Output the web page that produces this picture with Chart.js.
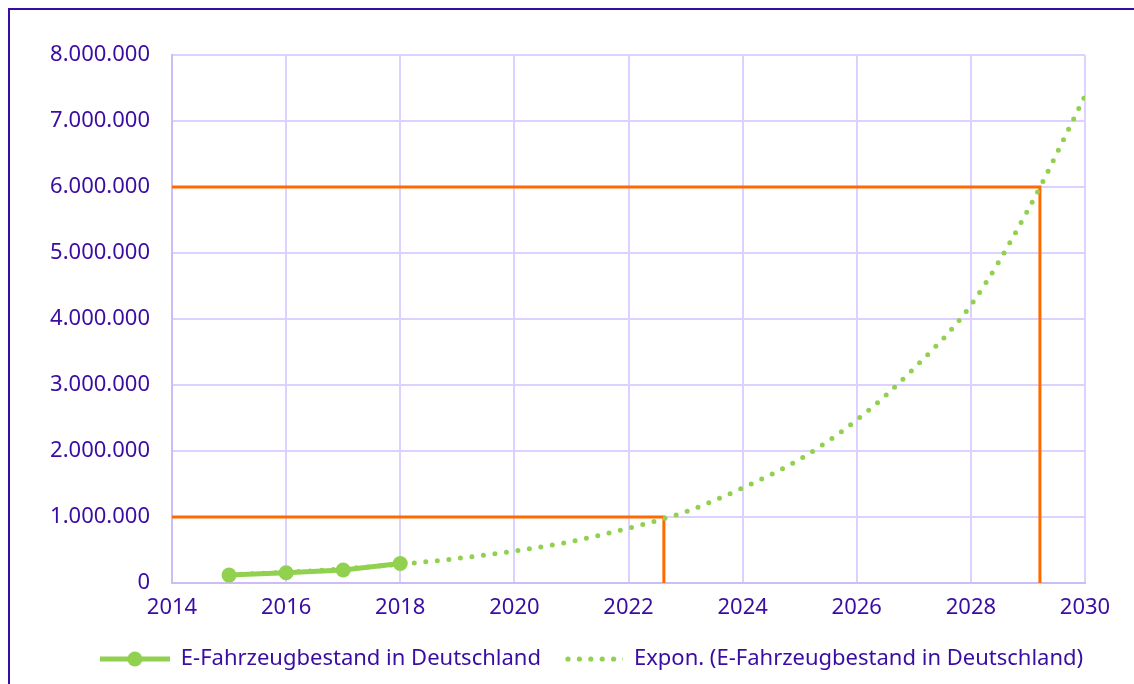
<!DOCTYPE html>
<html lang="de">
<head>
<meta charset="utf-8">
<title>E-Fahrzeugbestand in Deutschland</title>
<script src="https://cdn.jsdelivr.net/npm/chart.js@4.4.1/dist/chart.umd.min.js"></script>
<style>
    html, body { margin: 0; padding: 0; background: #ffffff; overflow: hidden; }
    #frame {
        position: absolute; left: 8px; top: 8px;
        width: 1300px; height: 900px;
        border: 2px solid #3a0ca3;
        pointer-events: none;
    }
    #wrap { position: absolute; left: 0; top: 0; width: 1134px; height: 684px; }
</style>
</head>
<body>
<div id="frame"></div>
<div id="wrap"><canvas id="evChart"></canvas></div>
<script>
// Bestand (Messwerte)
const years = [2015, 2016, 2017, 2018];
const bestand = [120000, 156000, 198000, 296000];

// Exponentielle Trendlinie
const trendYears = [2015, 2016, 2017, 2018, 2019, 2020, 2021, 2022, 2023, 2024, 2025, 2026, 2027, 2028, 2029, 2030];
const trendValues = [125000, 163000, 215000, 285000, 372000, 485000, 630000, 830000, 1080000, 1440000, 1875000, 2470000, 3250000, 4210000, 5650000, 7380000];

// Orange Markierungen (1 Mio. / 6 Mio.)
const markYears = [2022.62, 2029.21];
const markValues = [1000000, 6000000];

// Achsen
const xMin = 2014, xMax = 2030, xStep = 2;
const yMin = 0, yMax = 8000000, yStep = 1000000;

const labelNames = ['E-Fahrzeugbestand in Deutschland', 'Expon. (E-Fahrzeugbestand in Deutschland)'];

const textColor = '#3a0ca3';
const green = '#92d050';
const orange = '#ff6a00';
const gridColor = '#ddd2ff';
const fontFamily = "'Noto Sans', 'Open Sans', sans-serif";

function formatDE(v) {
    return String(Math.round(v)).replace(/\B(?=(\d{3})+(?!\d))/g, '.');
}

// Legend markers
function lineMarker() {
    const c = document.createElement('canvas');
    c.width = 70; c.height = 18;
    const ctx = c.getContext('2d');
    ctx.strokeStyle = green;
    ctx.lineWidth = 5;
    ctx.beginPath();
    ctx.moveTo(0, 9);
    ctx.lineTo(70, 9);
    ctx.stroke();
    ctx.fillStyle = green;
    ctx.beginPath();
    ctx.arc(35, 9, 7.5, 0, Math.PI * 2);
    ctx.fill();
    return c;
}

function dotMarker() {
    const c = document.createElement('canvas');
    c.width = 70; c.height = 18;
    const ctx = c.getContext('2d');
    ctx.fillStyle = green;
    for (let i = 0; i < 6; i++) {
        ctx.beginPath();
        ctx.arc(15 + i * 11.4, 9, 2.6, 0, Math.PI * 2);
        ctx.fill();
    }
    return c;
}

const markerImages = [lineMarker(), dotMarker()];

// The original legend sits a bit right of the canvas centre
const legendShift = {
    id: 'legendShift',
    afterLayout(chart) {
        if (chart.legend) {
            chart.legend.left = 49;
            chart.legend.right = chart.width;
        }
    }
};

const markDatasets = markYears.map((yr, i) => ({
    label: 'mark' + i,
    data: [{ x: xMin, y: markValues[i] }, { x: yr, y: markValues[i] }, { x: yr, y: yMin }],
    borderColor: orange,
    borderWidth: 3,
    pointRadius: 0,
    fill: false,
    tension: 0,
    order: 3
}));

const ctx = document.getElementById('evChart').getContext('2d');

const evChart = new Chart(ctx, {
    type: 'line',
    data: {
        datasets: [
            {
                label: labelNames[0],
                data: years.map((yr, i) => ({ x: yr, y: bestand[i] })),
                borderColor: green,
                backgroundColor: green,
                borderWidth: 5,
                pointRadius: 7.5,
                pointBackgroundColor: green,
                pointBorderWidth: 0,
                tension: 0,
                order: 1
            },
            {
                label: labelNames[1],
                data: trendYears.map((yr, i) => ({ x: yr, y: trendValues[i] })),
                borderColor: green,
                borderWidth: 5,
                borderDash: [0, 11.6],
                borderCapStyle: 'round',
                pointRadius: 0,
                cubicInterpolationMode: 'monotone',
                order: 2
            },
            ...markDatasets
        ]
    },
    options: {
        responsive: true,
        maintainAspectRatio: false,
        animation: false,
        layout: {
            padding: { left: 0, right: 49, top: 55, bottom: 4 }
        },
        scales: {
            x: {
                type: 'linear',
                min: xMin,
                max: xMax,
                afterFit: s => { s.height = 53; },
                grid: { color: gridColor, lineWidth: 2, drawTicks: false },
                border: { color: '#cdbdf7', width: 2 },
                ticks: {
                    stepSize: xStep,
                    padding: 12,
                    color: textColor,
                    font: { family: fontFamily, size: 22 },
                    callback: v => String(v)
                }
            },
            y: {
                min: yMin,
                max: yMax,
                afterFit: s => { s.width = 172; },
                grid: { color: gridColor, lineWidth: 2, drawTicks: false },
                border: { color: '#cdbdf7', width: 2 },
                ticks: {
                    stepSize: yStep,
                    padding: 22,
                    color: textColor,
                    font: { family: fontFamily, size: 22 },
                    callback: v => formatDE(v)
                }
            }
        },
        plugins: {
            legend: {
                position: 'bottom',
                labels: {
                    usePointStyle: true,
                    pointStyleWidth: 70,
                    boxHeight: 18,
                    padding: 12,
                    color: textColor,
                    font: { family: fontFamily, size: 22 },
                    generateLabels: () => labelNames.map((name, i) => ({
                        text: name,
                        pointStyle: markerImages[i],
                        fontColor: textColor,
                        datasetIndex: i,
                        lineWidth: 0,
                        hidden: false
                    }))
                }
            },
            tooltip: { enabled: false }
        }
    },
    plugins: [legendShift]
});
</script>
</body>
</html>
